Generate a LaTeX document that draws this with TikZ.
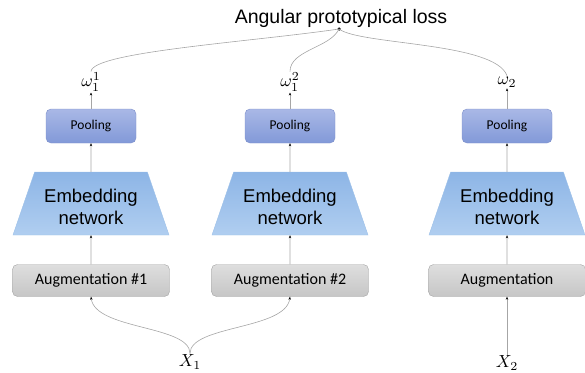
\documentclass[tikz,border=0pt]{standalone}
\usepackage{graphicx}
\usepackage[no-math]{fontspec}
\setmainfont{Liberation Sans}
\newfontfamily\carlito{Carlito}
\usetikzlibrary{shapes.geometric,arrows.meta}
\definecolor{linegray}{HTML}{A6A6A6}
\tikzset{
  conn/.style={draw=linegray, line width=0.6pt},
  arr/.style={conn, -{Stealth[length=3pt,width=2.4pt,black]}},
  poolbox/.style={draw=poolborder, rounded corners=5pt, top color=pooltop, bottom color=poolbot,
    minimum width=90pt, minimum height=34pt, inner sep=0pt, font=\carlito\fontsize{13.5}{15}\selectfont},
  embbox/.style={trapezium, trapezium stretches body, trapezium angle=63.8, draw=embborder,
    top color=embtop, bottom color=embbot, minimum width=156pt, minimum height=63pt, inner sep=0pt,
    font=\fontsize{18.5}{22}\selectfont},
  augbox/.style={draw=augborder, rounded corners=5pt, top color=augtop, bottom color=augbot,
    minimum width=157pt, minimum height=32pt, inner sep=0pt, font=\carlito\fontsize{16}{18}\selectfont},
  wlabel/.style={inner sep=1pt},
  xlabel/.style={inner sep=1pt},
}
\newcommand{\bigmath}[1]{\scalebox{1.75}{$#1$}}
\newcommand{\embtext}{\raisebox{-6pt}[\height][\depth]{\begin{tabular}{@{}c@{}}Embedding\\network\end{tabular}}}
\definecolor{pooltop}{HTML}{A9B8E6}
\definecolor{poolbot}{HTML}{8299D8}
\definecolor{poolborder}{HTML}{7D8FC9}
\definecolor{embtop}{HTML}{8DB5E6}
\definecolor{embbot}{HTML}{B0CEF0}
\definecolor{embborder}{HTML}{9CC0E8}
\definecolor{augtop}{HTML}{DEDEDE}
\definecolor{augbot}{HTML}{C6C6C6}
\definecolor{augborder}{HTML}{A3A3A3}
\begin{document}
\begin{tikzpicture}[x=1pt,y=-1pt]
\path[use as bounding box] (0,0) rectangle (585,372);
% title and loss point
\node[anchor=base, inner sep=0pt, font=\fontsize{19.5}{22}\selectfont] (title) at (341,23) {Angular prototypical loss};
\node[circle, fill=black, inner sep=0pt, minimum size=3.5pt] (loss) at (339,29) {};
% columns
\foreach \c/\x/\aug/\w in {1/91/{Augmentation \#1}/{\omega_1^1}, 2/290/{Augmentation \#2}/{\omega_1^2}, 3/507/{Augmentation}/{\omega_2}} {
  \node[poolbox] (pool\c) at (\x,126) {Pooling};
  \node[embbox] (emb\c) at (\x,203.5) {\embtext};
  \node[augbox] (aug\c) at (\x,280.5) {\aug};
  \node[wlabel] (w\c) at (\x,82) {\bigmath{\w}};
  \draw[arr] (aug\c.north) -- (emb\c.south);
  \draw[arr] (emb\c.north) -- (pool\c.south);
  \draw[arr] (pool\c.north) -- (w\c.south);
}
\node[xlabel] (x1) at (190,362) {\bigmath{X_1}};
\node[xlabel] (x2) at (507,363) {\bigmath{X_2}};
% input connectors
\draw[arr] (x1.north) .. controls (190,325) and (95,330) .. (aug1.south);
\draw[arr] (x1.north) .. controls (190,325) and (286,330) .. (aug2.south);
\draw[arr] (x2.north) -- (aug3.south);
% output connectors
\draw[conn] (w1.north) .. controls (92,52) and (250,42) .. (loss.center);
\draw[conn] (w2.north) .. controls (290,50) and (330,48) .. (loss.center);
\draw[conn] (loss.center) .. controls (360,45) and (495,42) .. (w3.north);
\end{tikzpicture}
\end{document}
